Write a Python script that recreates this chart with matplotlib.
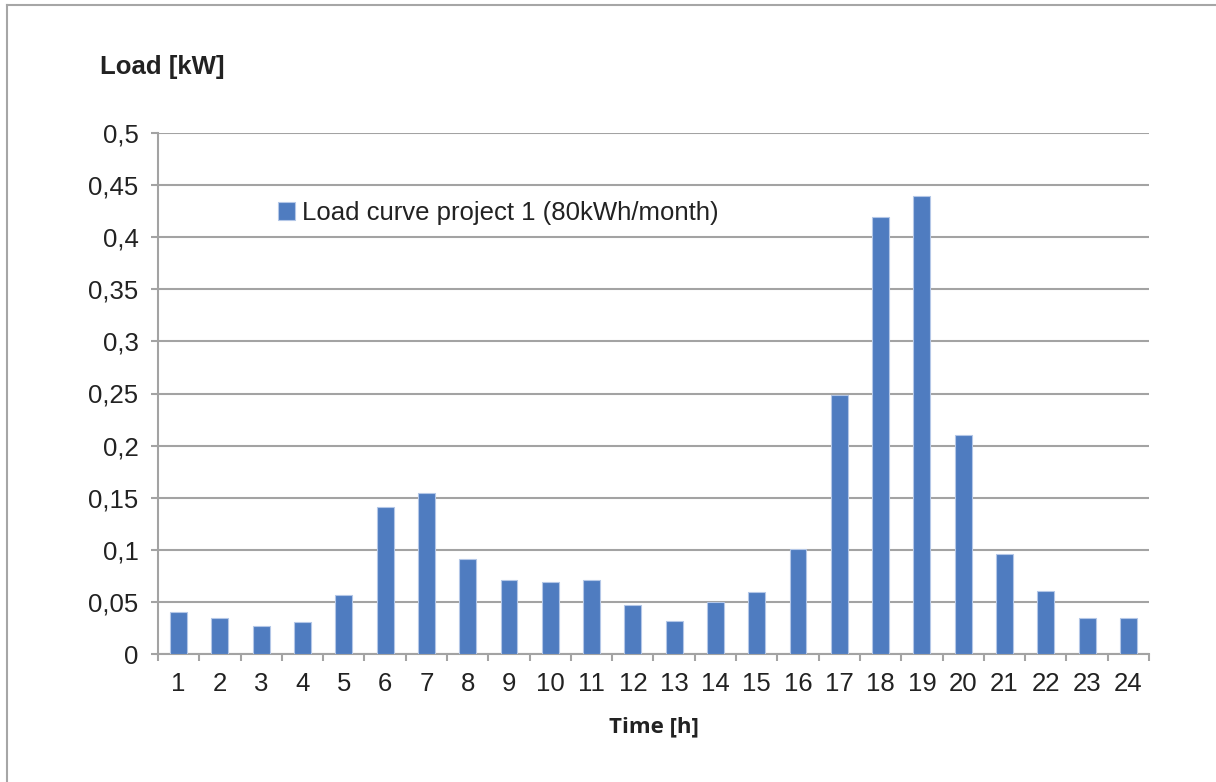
import matplotlib
matplotlib.use("Agg")
import matplotlib.pyplot as plt
from matplotlib.lines import Line2D
import numpy as np

# Hourly load profile
hours = list(range(1, 25))
load_kw = [0.041, 0.0345, 0.0274, 0.031, 0.0571, 0.1414, 0.1548, 0.0916,
           0.0709, 0.0693, 0.0709, 0.0475, 0.0319, 0.0504, 0.0594, 0.1012,
           0.2481, 0.4192, 0.439, 0.2098, 0.0961, 0.0603, 0.0351, 0.0345]
series_label = "Load curve project 1 (80kWh/month)"
y_ticks = [0, 0.05, 0.1, 0.15, 0.2, 0.25, 0.3, 0.35, 0.4, 0.45, 0.5]
y_tick_labels = ["0", "0,05", "0,1", "0,15", "0,2", "0,25", "0,3", "0,35",
                 "0,4", "0,45", "0,5"]

BAR_COLOR = "#4F7CC0"
GRID_COLOR = "#A3A3A3"
TEXT_COLOR = "#222222"

plt.rcParams["font.family"] = ["Liberation Sans", "DejaVu Sans"]

W, H = 1216, 782
fig = plt.figure(figsize=(W / 100, H / 100), dpi=100)
ax = fig.add_axes([158 / W, 1 - 654.3 / H, (1149 - 158) / W, (654.3 - 132.7) / H])

x = np.arange(1, len(hours) + 1)
ax.bar(x, load_kw, width=0.41, color=BAR_COLOR, edgecolor="#B4C7E7",
       linewidth=0.8, label=series_label, zorder=3)

ax.set_xlim(0.5, len(hours) + 0.5)
ax.set_ylim(0, 0.5)

ax.set_yticks(y_ticks)
ax.set_yticklabels(y_tick_labels)
ax.yaxis.grid(True, color=GRID_COLOR, linewidth=1.5, zorder=0)
ax.set_axisbelow(True)

# Category labels centred, tick marks at category boundaries
ax.set_xticks(np.arange(0.5, len(hours) + 1, 1.0))
ax.set_xticklabels([])
ax.set_xticks(x, minor=True)
ax.set_xticklabels([str(h) for h in hours], minor=True)
ax.tick_params(axis="x", which="major", direction="out", length=5,
               width=1.5, color=GRID_COLOR)
ax.tick_params(axis="x", which="minor", length=0, pad=13,
               labelsize=18.5, labelcolor=TEXT_COLOR)
ax.tick_params(axis="y", direction="out", length=5, width=1.5,
               color=GRID_COLOR, pad=9, labelsize=18.5, labelcolor=TEXT_COLOR)

for side in ("top", "right"):
    ax.spines[side].set_visible(False)
for side in ("left", "bottom"):
    ax.spines[side].set_color(GRID_COLOR)
    ax.spines[side].set_linewidth(1.5)

# Axis titles
fig.text(100 / W, 1 - 67 / H, "Load [kW]", fontsize=18.5, fontweight="bold",
         color=TEXT_COLOR, ha="left", va="center")
fig.text(653.5 / W, 1 - 727 / H, "Time [h]", fontsize=16, fontweight="bold",
         family=["Open Sans", "DejaVu Sans"], color=TEXT_COLOR,
         ha="center", va="center")

ax.legend(loc="center left", bbox_to_anchor=(278 / W, 1 - 213 / H),
          bbox_transform=fig.transFigure, frameon=False, fontsize=18.5,
          handlelength=0.65, handleheight=0.65, handletextpad=0.3,
          borderpad=0, borderaxespad=0, labelcolor=TEXT_COLOR)

# Chart area border (top and left edges)
fig.add_artist(Line2D([7 / W, 1.0], [1 - 5 / H, 1 - 5 / H],
                      transform=fig.transFigure, color="#A6A6A6", linewidth=1.5))
fig.add_artist(Line2D([7 / W, 7 / W], [0.0, 1 - 5 / H],
                      transform=fig.transFigure, color="#A6A6A6", linewidth=1.5))

fig.savefig("out.png", dpi=100)
